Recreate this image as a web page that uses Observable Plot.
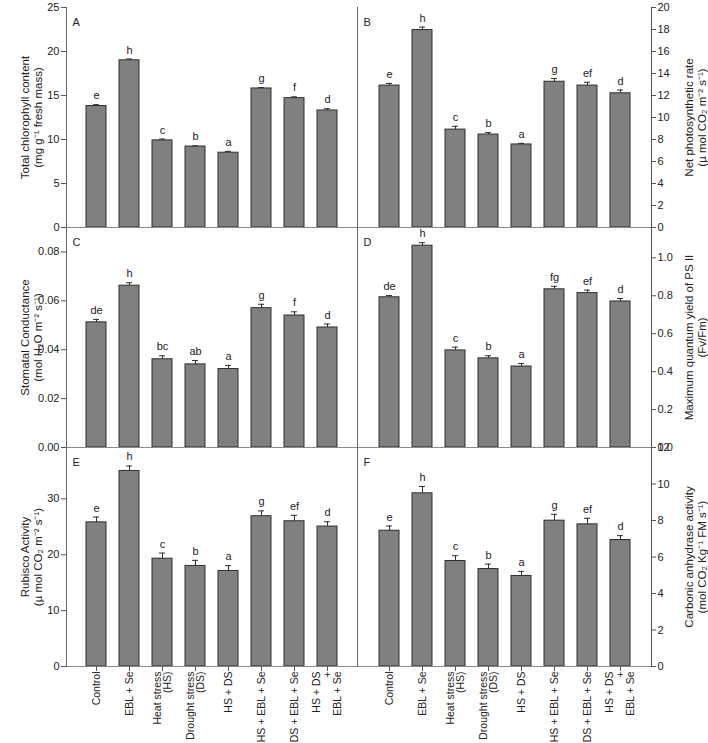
<!DOCTYPE html>
<html><head><meta charset="utf-8">
<script src="https://cdn.jsdelivr.net/npm/d3@7"></script>
<script src="https://cdn.jsdelivr.net/npm/@observablehq/plot@0.6"></script>
<style>
body{margin:0;background:#fff;}
#chart{position:relative;width:708px;height:743px;font-family:"Liberation Sans",Arial,sans-serif;}
#chart svg{position:absolute;left:0;top:0;}
</style></head><body><div id="chart"></div>
<script>
const treatments = ["Control","EBL + Se","Heat stress (HS)","Drought stress (DS)","HS + DS","HS + EBL + Se","DS + EBL + Se","HS + DS + EBL + Se"];
const tickLabels = ["Control","EBL + Se","Heat stress\n(HS)","Drought stress\n(DS)","HS + DS","HS + EBL + Se","DS + EBL + Se","HS + DS\n+\nEBL + Se"];

const chlorophyll = [13.8, 19.0, 9.9, 9.2, 8.5, 15.8, 14.7, 13.3];
const chlorophyllErr = [0.16, 0.15, 0.15, 0.08, 0.15, 0.1, 0.15, 0.2];
const chlorophyllLetters = ["e","h","c","b","a","g","f","d"];

const photosynthesis = [12.9, 17.95, 8.9, 8.45, 7.55, 13.25, 12.9, 12.2];
const photosynthesisErr = [0.2, 0.27, 0.3, 0.18, 0.1, 0.3, 0.3, 0.3];
const photosynthesisLetters = ["e","h","c","b","a","g","ef","d"];

const conductance = [0.0512, 0.0662, 0.0361, 0.034, 0.0321, 0.057, 0.054, 0.0491];
const conductanceErr = [0.0012, 0.0012, 0.0014, 0.0016, 0.0015, 0.0016, 0.0015, 0.0014];
const conductanceLetters = ["de","h","bc","ab","a","g","f","d"];

const fvfm = [0.792, 1.064, 0.512, 0.47, 0.427, 0.834, 0.814, 0.77];
const fvfmErr = [0.009, 0.016, 0.017, 0.014, 0.016, 0.016, 0.016, 0.016];
const fvfmLetters = ["de","h","c","b","a","fg","ef","d"];

const rubisco = [25.8, 35.0, 19.3, 18.0, 17.1, 26.9, 26.0, 25.05];
const rubiscoErr = [0.95, 0.9, 1.0, 1.0, 0.95, 0.95, 1.05, 0.86];
const rubiscoLetters = ["e","h","c","b","a","g","ef","d"];

const anhydrase = [7.44, 9.49, 5.78, 5.34, 4.96, 7.99, 7.79, 6.93];
const anhydraseErr = [0.26, 0.37, 0.29, 0.27, 0.25, 0.35, 0.33, 0.24];
const anhydraseLetters = ["e","h","c","b","a","g","ef","d"];

const W = 708, H = 743;
const cols = {left: {l: 66, r: 357, po: 0.606}, right: {l: 357, r: 651, po: 0.65}};
const rows = [{t: 7, b: 227}, {t: 227, b: 447}, {t: 447, b: 666}];
const labelOf = Object.fromEntries(treatments.map((t, i) => [t, tickLabels[i]]));

function panel(cfg) {
  const c = cols[cfg.side], r = rows[cfg.row];
  const isLeft = cfg.side === "left";
  const data = treatments.map((t, i) => ({t, v: cfg.values[i], e: cfg.errs[i], lab: cfg.letters[i]}));
  const marks = [
    Plot.barY(data, {x: "t", y: "v", fill: "#808080", stroke: "#2e2e2e", strokeWidth: 1}),
    Plot.ruleX(data, {x: "t", y1: "v", y2: d => d.v + d.e, stroke: "#2e2e2e"}),
    Plot.tickY(data, {x: "t", y: d => d.v + d.e, stroke: "#2e2e2e", insetLeft: 7, insetRight: 7}),
    Plot.text(data, {x: "t", y: d => d.v + d.e, text: "lab", dy: -9, fontSize: 11, fill: "#222"}),
    Plot.ruleY([0], {stroke: "#8a8a8a"}),
    Plot.axisY({anchor: isLeft ? "left" : "right", ticks: cfg.ticks, tickFormat: cfg.fmt,
      tickSize: isLeft ? 5 : 4, tickPadding: 2, label: null, fontSize: 11, stroke: "#555", fill: "#222"}),
    Plot.frame({anchor: "left", stroke: "#666"}),
    Plot.text([cfg.title], {frameAnchor: isLeft ? "left" : "right", rotate: -90, dx: isLeft ? -35 : 44,
      textAnchor: "middle", lineAnchor: "middle", lineHeight: 1.1, fontSize: 11.5, fill: "#222"}),
    Plot.text([cfg.tag], {frameAnchor: "top-left", dx: 6, dy: 11, textAnchor: "start", fontSize: 11, fill: "#222"})
  ];
  if (!isLeft) marks.push(Plot.frame({anchor: "right", stroke: "#555"}));
  if (cfg.row === 2) marks.push(Plot.axisX({anchor: "bottom", tickSize: 5, tickPadding: 0, tickRotate: -90,
    tickFormat: d => labelOf[d], label: null, fontSize: 10.5, stroke: "#555", fill: "#222"}));
  return Plot.plot({
    width: W, height: H,
    marginLeft: c.l, marginRight: W - c.r, marginTop: r.t, marginBottom: H - r.b,
    x: {domain: treatments, paddingInner: 0.394, paddingOuter: c.po, axis: null},
    y: {domain: cfg.domain, axis: null},
    style: {background: "none", overflow: "visible", fontFamily: "Liberation Sans, Arial, sans-serif"},
    marks
  });
}

const panels = [
  {side: "left", row: 0, tag: "A", values: chlorophyll, errs: chlorophyllErr, letters: chlorophyllLetters,
   domain: [0, 25], ticks: [0, 5, 10, 15, 20, 25], fmt: d3.format("d"),
   title: "Total chlorophyll content\n(mg g\u207B\u00B9 fresh mass)"},
  {side: "right", row: 0, tag: "B", values: photosynthesis, errs: photosynthesisErr, letters: photosynthesisLetters,
   domain: [0, 20], ticks: d3.range(0, 21, 2), fmt: d3.format("d"),
   title: "Net photosynthetic rate\n(\u00B5 mol CO\u2082 m\u207B\u00B2 s\u207B\u00B9)"},
  {side: "left", row: 1, tag: "C", values: conductance, errs: conductanceErr, letters: conductanceLetters,
   domain: [0, 0.09], ticks: [0, 0.02, 0.04, 0.06, 0.08], fmt: d3.format(".2f"),
   title: "Stomatal Conductance\n(mol H\u2082O m\u207B\u00B2 s\u207B\u00B9)"},
  {side: "right", row: 1, tag: "D", values: fvfm, errs: fvfmErr, letters: fvfmLetters,
   domain: [0, 1.16], ticks: [0, 0.2, 0.4, 0.6, 0.8, 1.0], fmt: d3.format(".1f"),
   title: "Maximum quantum yield of PS II\n(Fv/Fm)"},
  {side: "left", row: 2, tag: "E", values: rubisco, errs: rubiscoErr, letters: rubiscoLetters,
   domain: [0, 39.2], ticks: [0, 10, 20, 30], fmt: d3.format("d"),
   title: "Rubisco Activity\n(\u00B5 mol CO\u2082 m\u207B\u00B2 s\u207B\u00B9)"},
  {side: "right", row: 2, tag: "F", values: anhydrase, errs: anhydraseErr, letters: anhydraseLetters,
   domain: [0, 12], ticks: d3.range(0, 13, 2), fmt: d3.format("d"),
   title: "Carbonic anhydrase activity\n(mol CO\u2082 Kg\u207B\u00B9 FM s\u207B\u00B9)"}
];

const root = document.getElementById("chart");
for (const p of panels) root.appendChild(panel(p));
</script>
</body></html>
